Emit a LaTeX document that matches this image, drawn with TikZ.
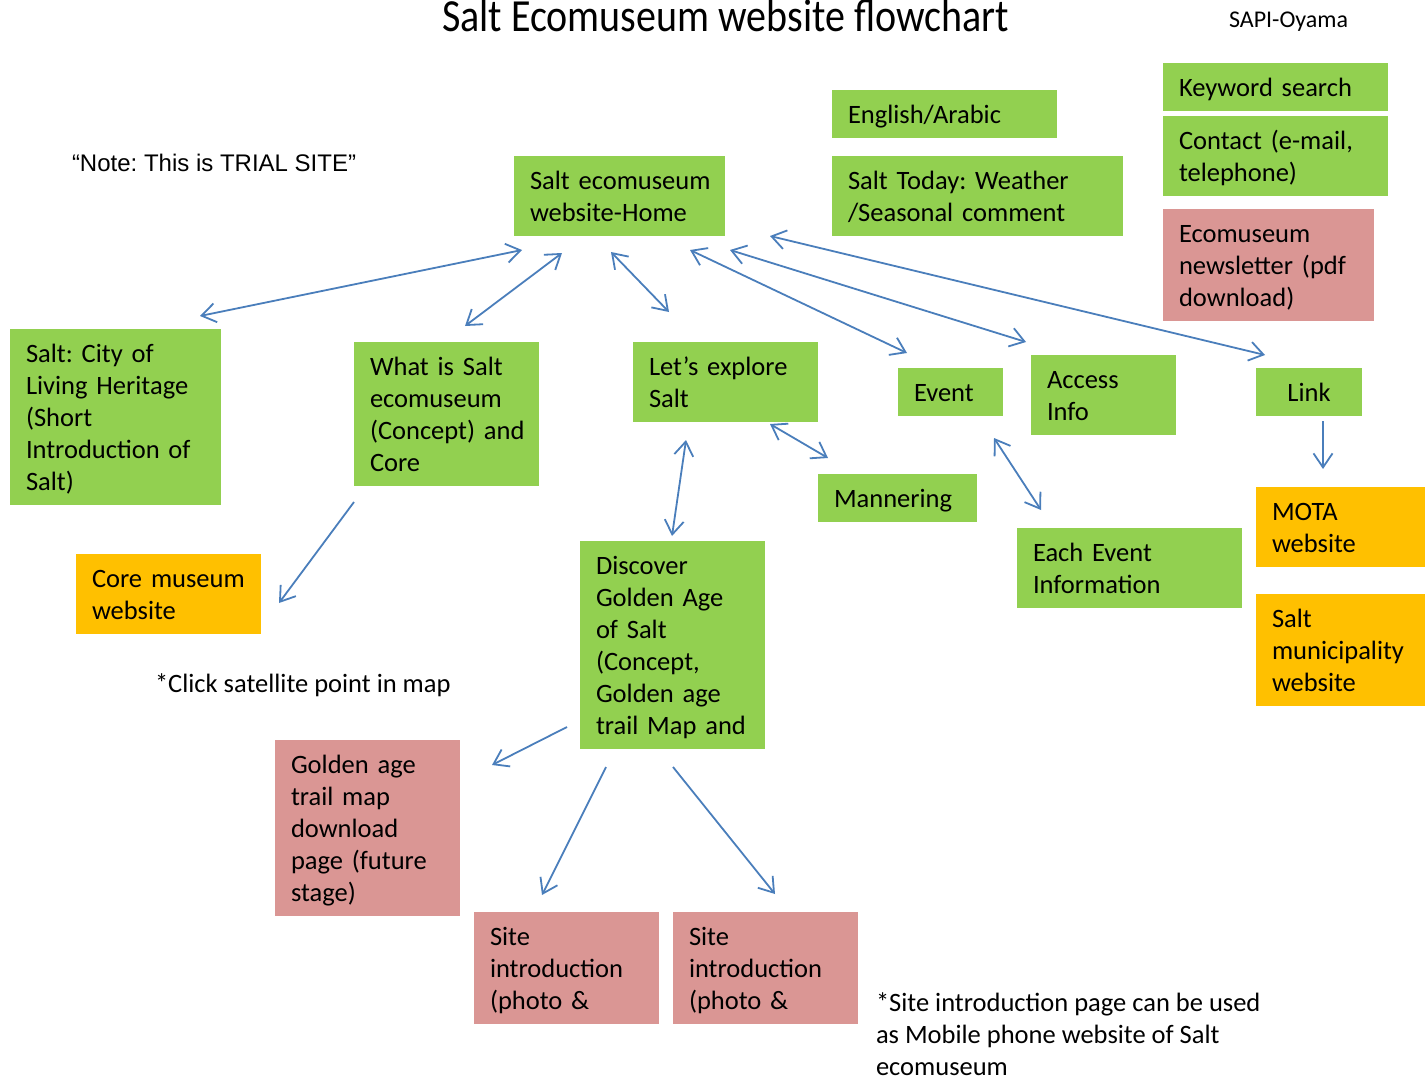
\documentclass[tikz,border=0pt]{standalone}
\usepackage{fontspec}
\setmainfont{Carlito}
\newfontfamily\notefont{Liberation Sans}
\newfontfamily\titlefont[FakeStretch=0.87]{Carlito}
\usetikzlibrary{arrows.meta,calc}
\definecolor{boxgreen}{HTML}{92D050}
\definecolor{boxorange}{HTML}{FFC000}
\definecolor{boxpink}{HTML}{DA9694}
\definecolor{linkblue}{HTML}{4A7EBB}
\newcommand\boxfont{\fontsize{26.5}{32}\selectfont}
\tikzset{
  sz/.code 2 args={\pgfmathsetlengthmacro\boxtw{#1-32}%
    \edef\boxtmp{\noexpand\tikzset{minimum width=#1pt,minimum height=#2pt,text width=\boxtw}}\boxtmp},
  card/.style={rectangle, outer sep=0pt, inner xsep=16pt, inner ysep=0pt,
    anchor=north west, align=left, font=\boxfont, text=black,
    execute at begin node={\rule{0pt}{23pt}},
    execute at end node={\rule[-4pt]{0pt}{4pt}}},
  gbox/.style={card, fill=boxgreen},
  obox/.style={card, fill=boxorange},
  pbox/.style={card, fill=boxpink},
  plain/.style={inner sep=0pt, outer sep=0pt, text=black},
  tip/.tip={Straight Barb[length=14pt,width=19pt]},
  bi/.style={draw=linkblue, line width=1.8pt, tip-tip},
  uni/.style={draw=linkblue, line width=1.8pt, -tip},
}
\begin{document}
\frenchspacing
\hyphenpenalty=10000
\hbadness=10000
\hfuzz=60pt
\begin{tikzpicture}[x=1pt,y=-1pt]
\useasboundingbox (0,0) rectangle (1425,1081);

% headings and notes
\node[plain, anchor=base west, font=\titlefont\fontsize{46}{46}\selectfont] (title) at (442,32) {Salt Ecomuseum website flowchart};
\node[plain, anchor=base west, font=\fontsize{24}{28}\selectfont] (sapi) at (1229,28) {SAPI-Oyama};
\node[plain, anchor=base west, font=\notefont\fontsize{24}{28}\selectfont] (note) at (72,171) {“Note: This is TRIAL SITE”};
\node[plain, anchor=base west, font=\boxfont] (click) at (155,692) {*Click satellite point in map};
\node[plain, anchor=north west, align=left, font=\boxfont] (mobile) at (876,993)
  {*Site introduction page can be used\\as Mobile phone website of Salt\\ecomuseum};

% top row
\node[gbox, sz={211}{80}] (home) at (514,156) {Salt~ecomuseum\\website-Home};
\node[gbox, sz={225}{48}] (eng) at (832,90) {English/Arabic};
\node[gbox, sz={291}{80}] (today) at (832,156) {Salt~Today:~Weather\\/Seasonal~comment};
\node[gbox, sz={225}{48}] (kw) at (1163,63) {Keyword~search};
\node[gbox, sz={225}{80}] (contact) at (1163,116) {Contact~(e-mail,\\telephone)};
\node[pbox, sz={211}{112}] (news) at (1163,209) {Ecomuseum\\newsletter~(pdf\\download)};

% second row
\node[gbox, sz={211}{176}] (city) at (10,329) {Salt:~City~of\\Living~Heritage\\(Short\\Introduction~of\\Salt)};
\node[gbox, sz={185}{144}] (what) at (354,342) {What~is~Salt\\ecomuseum\\(Concept)~and\\Core};
\node[gbox, sz={185}{80}] (lets) at (633,342) {Let’s~explore\\Salt};
\node[gbox, sz={105}{48}] (event) at (898,368) {Event};
\node[gbox, sz={145}{80}] (access) at (1031,355) {Access\\Info};
\node[gbox, sz={106}{48}, align=center] (link) at (1256,368) {Link};

% third row
\node[gbox, sz={159}{48}] (mann) at (818,474) {Mannering};
\node[gbox, sz={225}{80}] (each) at (1017,528) {Each~Event\\Information};
\node[obox, sz={169}{80}] (mota) at (1256,487) {MOTA\\website};
\node[obox, sz={169}{112}] (muni) at (1256,594) {Salt\\municipality\\website};
\node[obox, sz={185}{80}] (core) at (76,554) {Core~museum\\website};
\node[gbox, sz={185}{208}] (disc) at (580,541) {Discover\\Golden~Age\\of~Salt\\(Concept,\\Golden~age\\trail~Map~and};

% bottom row
\node[pbox, sz={185}{176}] (gold) at (275,740) {Golden~age\\trail~map\\download\\page~(future\\stage)};
\node[pbox, sz={185}{112}] (site1) at (474,912) {Site\\introduction\\(photo~\&};
\node[pbox, sz={185}{112}] (site2) at (673,912) {Site\\introduction\\(photo~\&};

% connectors
\draw[bi] ($(home.south west)+(8,14)$) -- ($(city.north east)+(-21,-13)$);
\draw[bi] ($(home.south west)+(48,17)$) -- ($(what.north west)+(111,-16)$);
\draw[bi] ($(home.south west)+(97,16)$) -- ($(lets.north west)+(36,-30)$);
\draw[bi] ($(home.south east)+(-35,14)$) -- ($(event.north east)+(-96,-15)$);
\draw[bi] ($(home.south east)+(5,14)$) -- ($(access.north west)+(-5,-13)$);
\draw[bi] ($(home.south east)+(45,0)$) -- ($(link.north west)+(9,-13)$);
\draw[uni] ($(link.south west)+(67,5)$) -- ($(mota.north west)+(67,-18)$);
\draw[uni] ($(what.south west)+(0,16)$) -- ($(core.north east)+(18,49)$);
\draw[bi] ($(lets.south west)+(53,18)$) -- ($(disc.north west)+(92,-5)$);
\draw[bi] ($(lets.south west)+(137,2)$) -- ($(mann.north west)+(10,-16)$);
\draw[bi] ($(event.south west)+(96,22)$) -- ($(each.north west)+(24,-18)$);
\draw[uni] ($(disc.south west)+(-13,-22)$) -- ($(gold.north east)+(32,25)$);
\draw[uni] ($(disc.south west)+(26,18)$) -- ($(site1.north west)+(68,-17)$);
\draw[uni] ($(disc.south west)+(93,18)$) -- ($(site2.north west)+(102,-18)$);
\end{tikzpicture}
\end{document}
